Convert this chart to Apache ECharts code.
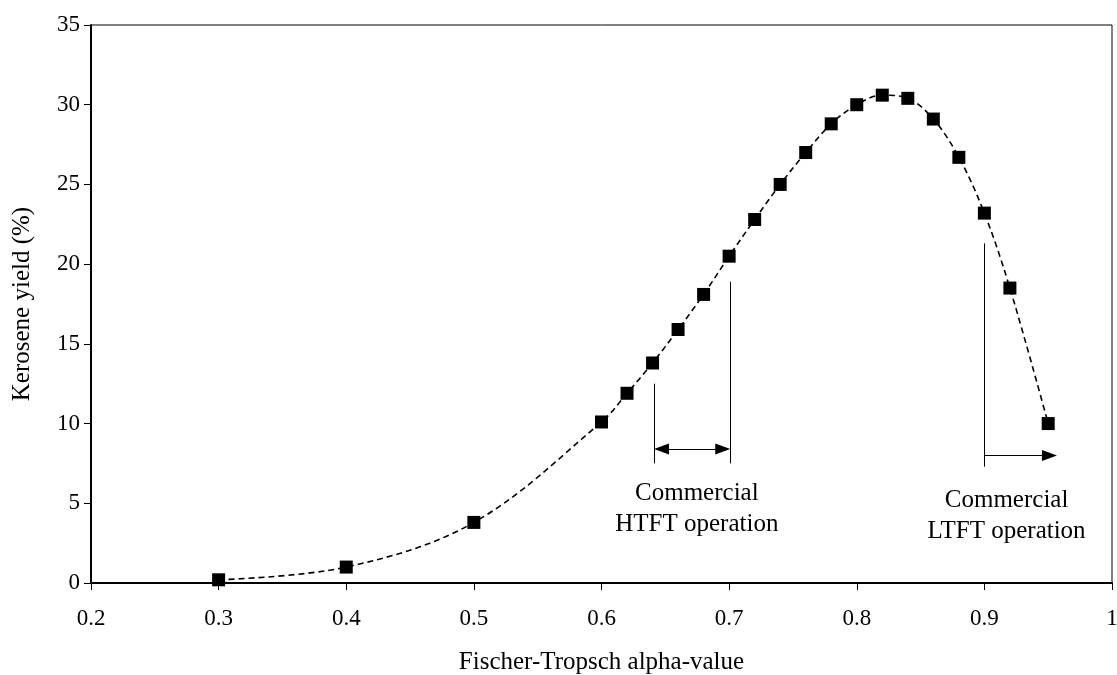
<!DOCTYPE html>
<html lang="en">
<head>
    <meta charset="UTF-8" />
    <title>Kerosene yield</title>
    <script src="https://cdn.jsdelivr.net/npm/echarts@6/dist/echarts.min.js"></script>
    <style>
        html, body { margin: 0; padding: 0; background: #fff; }
    </style>
</head>
<body>
    <div id="main" style="width: 1117px; height: 675px"></div>
    <script>
        // 读图得到的数据
        var alpha = [0.3, 0.4, 0.5, 0.6, 0.62, 0.64, 0.66, 0.68, 0.70, 0.72, 0.74,
                     0.76, 0.78, 0.80, 0.82, 0.84, 0.86, 0.88, 0.90, 0.92, 0.95]
        var kerosene = [0.2, 1.0, 3.8, 10.1, 11.9, 13.8, 15.9, 18.1, 20.5, 22.8, 25.0,
                        27.0, 28.8, 30.0, 30.6, 30.4, 29.1, 26.7, 23.2, 18.5, 10.0]

        // 注释：运行区间
        var htftRange = [0.641, 0.701]
        var ltftStart = 0.9
        var ltftEnd = 0.951

        var font = 'Liberation Serif, Times New Roman, serif'
        var mCharts = echarts.init(document.getElementById('main'))

        var points = []
        for (var i = 0; i < alpha.length; i++) {
            points.push([alpha[i], kerosene[i]])
        }

        var thin = { color: '#000', width: 1, type: 'solid' }
        var head = { symbol: 'triangle', symbolSize: [11, 15] }
        var pad = 0.006   // 箭头长度的一半，换成数据单位

        var option = {
            animation: false,
            backgroundColor: '#fff',
            grid: {
                left: 91, right: 5, top: 25, bottom: 92,
                outerBoundsMode: 'none',
                containLabel: false,
                show: true, borderColor: '#000', borderWidth: 1
            },
            xAxis: {
                type: 'value',
                min: 0.2, max: 1, interval: 0.1,
                name: 'Fischer-Tropsch alpha-value',
                nameLocation: 'middle',
                nameGap: 67,
                nameTextStyle: { fontFamily: font, fontSize: 25, color: '#000' },
                axisLine: { lineStyle: { color: '#000', width: 2 } },
                axisTick: { inside: false, length: 7, lineStyle: { color: '#000' } },
                axisLabel: { margin: 24, fontFamily: font, fontSize: 23, color: '#000' },
                splitLine: { show: false }
            },
            yAxis: {
                type: 'value',
                min: 0, max: 35, interval: 5,
                name: 'Kerosene yield (%)',
                nameLocation: 'middle',
                nameGap: 56,
                nameTextStyle: { fontFamily: font, fontSize: 25, color: '#000' },
                axisLine: { show: true, lineStyle: { color: '#000', width: 2 } },
                axisTick: { show: true, inside: false, length: 7, lineStyle: { color: '#000' } },
                axisLabel: { margin: 11, fontFamily: font, fontSize: 23, color: '#000' },
                splitLine: { show: false }
            },
            series: [
                {
                    type: 'line',
                    data: points,
                    smooth: 0.35,
                    symbol: 'rect',
                    symbolSize: 13,
                    itemStyle: { color: '#000' },
                    lineStyle: { color: '#000', width: 1.6, type: [6, 4] }
                },
                {
                    // 注释用的线和箭头
                    type: 'line',
                    data: [],
                    silent: true,
                    markLine: {
                        silent: true,
                        label: { show: false },
                        lineStyle: thin,
                        symbol: ['none', 'none'],
                        data: [
                            [{ coord: [htftRange[0], 12.5] }, { coord: [htftRange[0], 7.5] }],
                            [{ coord: [htftRange[1], 18.9] }, { coord: [htftRange[1], 7.5] }],
                            [{ coord: [ltftStart, 21.3] }, { coord: [ltftStart, 7.3] }],
                            [Object.assign({ coord: [htftRange[0] + pad, 8.4] }, head),
                             Object.assign({ coord: [htftRange[1] - pad, 8.4] }, head)],
                            [{ coord: [ltftStart, 8.0], symbol: 'none' },
                             Object.assign({ coord: [ltftEnd, 8.0] }, head)]
                        ]
                    },
                    markPoint: {
                        silent: true,
                        symbol: 'rect',
                        symbolSize: 0,
                        label: {
                            show: true,
                            position: 'inside',
                            fontFamily: font,
                            fontSize: 25,
                            lineHeight: 31,
                            color: '#000',
                            align: 'center'
                        },
                        data: [
                            { coord: [0.6747, 4.67], label: { formatter: 'Commercial\nHTFT operation' } },
                            { coord: [0.9174, 4.21], label: { formatter: 'Commercial\nLTFT operation' } }
                        ]
                    }
                }
            ]
        }
        mCharts.setOption(option)
    </script>
</body>
</html>
